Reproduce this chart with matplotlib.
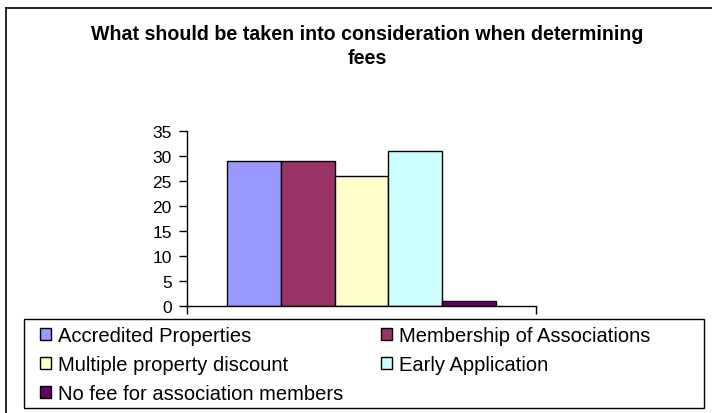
import matplotlib.pyplot as plt
from matplotlib.patches import Rectangle
from matplotlib.lines import Line2D
import numpy as np

plt.rcParams['font.family'] = ['Liberation Sans', 'DejaVu Sans']

# Survey responses, one bar per option
options = ['Accredited Properties', 'Membership of Associations',
           'Multiple property discount', 'Early Application',
           'No fee for association members']
counts = [29, 29, 26, 31, 1]
colors = ['#9999FF', '#993366', '#FFFFCC', '#CCFFFF', '#660066']
y_ticks = [0, 5, 10, 15, 20, 25, 30, 35]

W, H = 712, 414
fig = plt.figure(figsize=(W / 100, H / 100), dpi=100)

# chart area border (runs off the right and bottom edges)
fig.add_artist(Line2D([6 / W, 1.0], [1 - 9 / H, 1 - 9 / H], color='black', lw=1.2))
fig.add_artist(Line2D([6 / W, 6 / W], [1 - 9 / H, 0.0], color='black', lw=1.2))

ax = fig.add_axes([187 / W, 1 - 307 / H, (536 - 187) / W, (307 - 132) / H])

n = len(counts)
x = np.arange(n) - (n - 1) / 2
bars = ax.bar(x, counts, width=1.0, color=colors, edgecolor='black', linewidth=1.0)

half = n / 2 + 0.755
ax.set_xlim(-half, half)
ax.set_ylim(0, 35)
ax.set_yticks(y_ticks)
ax.set_xticks([-half, half])
ax.set_xticklabels([])
ax.tick_params(axis='both', direction='out', length=6, width=1, labelsize=12.5, pad=5)
for s in ['top', 'right']:
    ax.spines[s].set_visible(False)
ax.spines['left'].set_linewidth(1)
ax.spines['bottom'].set_linewidth(1)

fig.text(367 / W, 1 - 34 / H, 'What should be taken into consideration when determining',
         ha='center', va='center', fontsize=14.1, fontweight='bold')
fig.text(367 / W, 1 - 59 / H, 'fees', ha='center', va='center',
         fontsize=14.1, fontweight='bold')

# legend box and entries, row-wise order in two columns
fig.add_artist(Rectangle((24 / W, 1 - 409 / H), (704 - 24) / W, (409 - 320) / H,
                         transform=fig.transFigure, facecolor='none',
                         edgecolor='black', lw=1.0))
order = [0, 2, 4, 1, 3]
handles = [bars[i] for i in order]
labels = [options[i] for i in order]
fig.legend(handles, labels, loc='upper left', bbox_to_anchor=(40 / W, 1 - 327 / H),
           ncol=2, frameon=False, fontsize=14.5, handlelength=0.55, handleheight=0.55,
           handletextpad=0.35, columnspacing=1.85, labelspacing=0.5, borderpad=0,
           borderaxespad=0)

fig.savefig('out.png', dpi=100)
